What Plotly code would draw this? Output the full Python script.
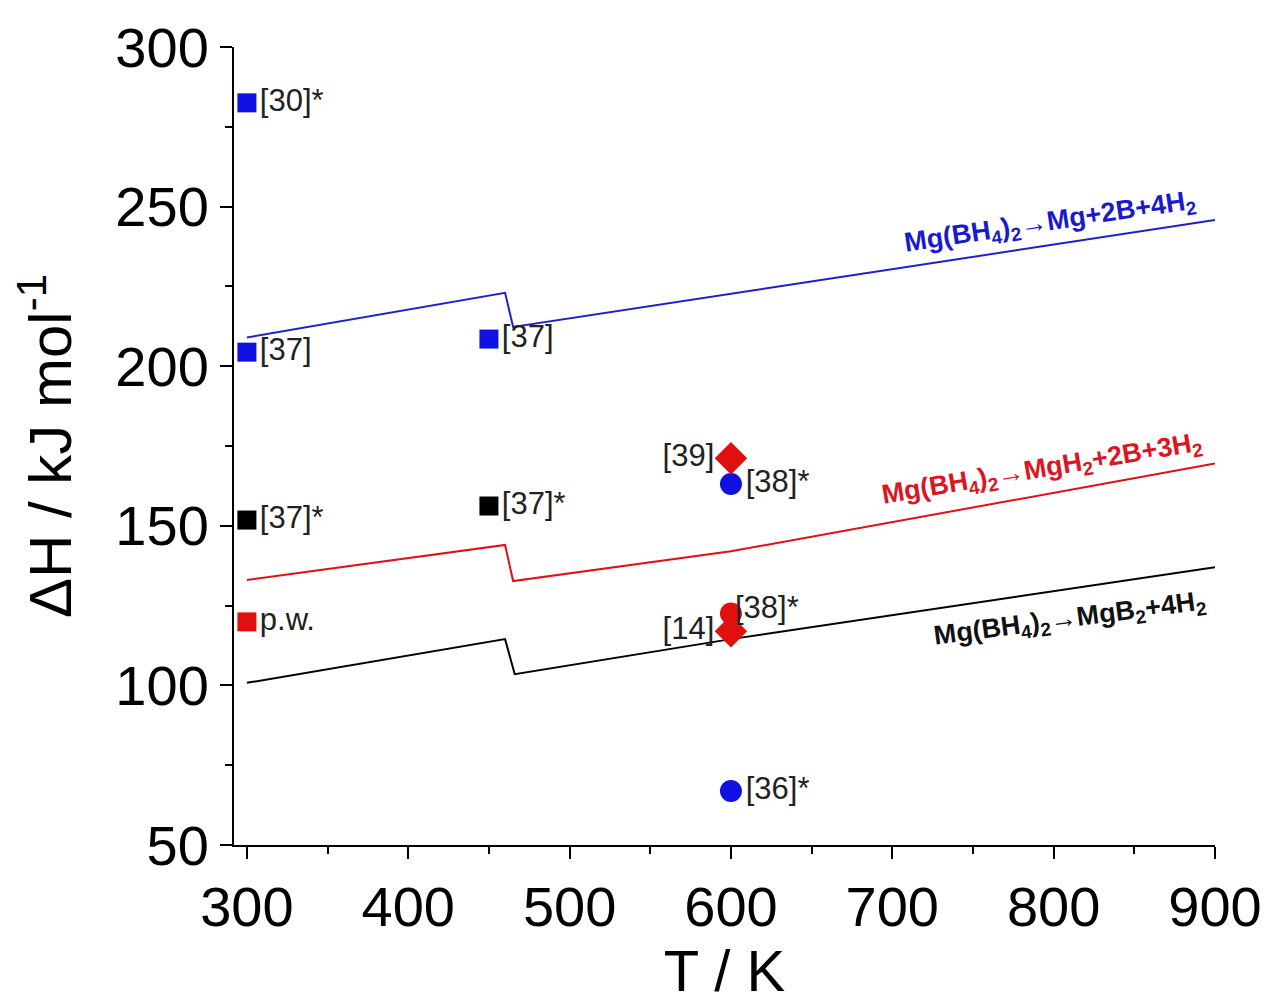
import plotly.graph_objects as go

# ---- data ----
line_T_blue = [300, 460, 465, 600, 900]
line_H_blue = [209.0, 223.0, 212.3, 222.7, 245.8]
line_T_red = [300, 460, 465, 600, 900]
line_H_red = [133.0, 144.0, 132.7, 142.0, 169.5]
line_T_black = [300, 460, 466, 600, 900]
line_H_black = [100.8, 114.5, 103.5, 114.5, 137.0]

blue_sq_T = [300, 300, 450]
blue_sq_H = [282.5, 204.4, 208.5]
blue_sq_lbl = ["[30]*", "[37]", "[37]"]

black_sq_T = [300, 450]
black_sq_H = [151.8, 156.2]
black_sq_lbl = ["[37]*", "[37]*"]

red_sq_T = [300]
red_sq_H = [119.9]
red_sq_lbl = ["p.w."]

blue_circ_T = [600, 600]
blue_circ_H = [163.1, 66.9]
blue_circ_lbl = ["[38]*", "[36]*"]

red_circ_T = [600]
red_circ_H = [122.5]
red_circ_lbl = ["[38]*"]

red_dia_T = [600, 600]
red_dia_H = [171.2, 117.0]
red_dia_lbl = ["[39]", "[14]"]

reaction_T = [798, 793, 810]
reaction_H = [245.0, 167.5, 120.5]
reaction_txt = [
    "<b>Mg(BH<sub>4</sub>)<sub>2</sub>→Mg+2B+4H<sub>2</sub></b>",
    "<b>Mg(BH<sub>4</sub>)<sub>2</sub>→MgH<sub>2</sub>+2B+3H<sub>2</sub></b>",
    "<b>Mg(BH<sub>4</sub>)<sub>2</sub>→MgB<sub>2</sub>+4H<sub>2</sub></b>",
]
reaction_angle = [-8.5, -9.5, -7.5]
reaction_color = ["#1a1acc", "#dd1522", "#111111"]

BLUE = "#1010e0"
RED = "#e01010"
BLACK = "#000000"
LBLF = dict(family="Liberation Sans, Arial", size=31, color="#222222")

fig = go.Figure()

for T, H, c in [(line_T_blue, line_H_blue, "#2020c8"),
                (line_T_red, line_H_red, "#e0101a"),
                (line_T_black, line_H_black, BLACK)]:
    fig.add_trace(go.Scatter(x=T, y=H, mode="lines", line=dict(color=c, width=2),
                             showlegend=False, hoverinfo="skip"))

def pts(T, H, lbl, sym, size, color, pos):
    fig.add_trace(go.Scatter(x=T, y=H, mode="markers+text", text=lbl,
                             textposition=pos, textfont=LBLF,
                             marker=dict(symbol=sym, size=size, color=color, line=dict(width=0)),
                             showlegend=False, cliponaxis=False))

pts(blue_sq_T, blue_sq_H, blue_sq_lbl, "square", 19, BLUE, "middle right")
pts(black_sq_T, black_sq_H, black_sq_lbl, "square", 19, BLACK, "middle right")
pts(red_sq_T, red_sq_H, red_sq_lbl, "square", 19, RED, "middle right")
pts(blue_circ_T, blue_circ_H, blue_circ_lbl, "circle", 22, BLUE, "middle right")
pts(red_dia_T, red_dia_H, red_dia_lbl, "diamond", 25, RED, ["middle left", "middle left"])
# red circle drawn with its label slightly raised, as in the reference
fig.add_trace(go.Scatter(x=red_circ_T, y=red_circ_H, mode="markers",
                         marker=dict(symbol="circle", size=22, color=RED, line=dict(width=0)),
                         showlegend=False, cliponaxis=False))
for T, H, t in zip(red_circ_T, red_circ_H, red_circ_lbl):
    fig.add_annotation(x=T, y=H, xref="x", yref="y", text=t, showarrow=False,
                       xanchor="left", yanchor="middle", xshift=2, yshift=6, font=LBLF)

RF = "Liberation Sans, Arial"
for T, H, txt, ang, col in zip(reaction_T, reaction_H, reaction_txt, reaction_angle, reaction_color):
    fig.add_annotation(x=T, y=H, xref="x", yref="y", showarrow=False, textangle=ang,
                       xanchor="center", yanchor="middle", text=txt,
                       font=dict(family=RF, size=27, color=col))

AXF = dict(family="Liberation Sans, Arial", size=56, color="black")
fig.update_layout(
    width=1271, height=1005,
    margin=dict(l=226, r=64, t=39, b=168, autoexpand=False),
    paper_bgcolor="white", plot_bgcolor="white",
    font=AXF,
    xaxis=dict(range=[292, 900], showgrid=False, zeroline=False, automargin=False,
               showline=True, linecolor="black", linewidth=2,
               ticks="outside", ticklen=12, tickwidth=2, tickcolor="black",
               tickvals=[300, 400, 500, 600, 700, 800, 900],
               minor=dict(ticks="outside", ticklen=7, tickwidth=2, tickcolor="black",
                          tickvals=[350, 450, 550, 650, 750, 850]),
               tickfont=AXF,
               title=dict(text="T / K", font=dict(family="Liberation Sans, Arial", size=58), standoff=8)),
    yaxis=dict(range=[50, 300], showgrid=False, zeroline=False, automargin=False,
               showline=True, linecolor="black", linewidth=2,
               ticks="outside", ticklen=12, tickwidth=2, tickcolor="black",
               tickvals=[50, 100, 150, 200, 250, 300],
               minor=dict(ticks="outside", ticklen=7, tickwidth=2, tickcolor="black",
                          tickvals=[75, 125, 175, 225, 275]),
               tickfont=AXF,
               title=dict(text="ΔH / kJ mol<sup>-1</sup>", font=dict(family="Liberation Sans, Arial", size=60), standoff=24)),
)

fig.write_html("out.html")
